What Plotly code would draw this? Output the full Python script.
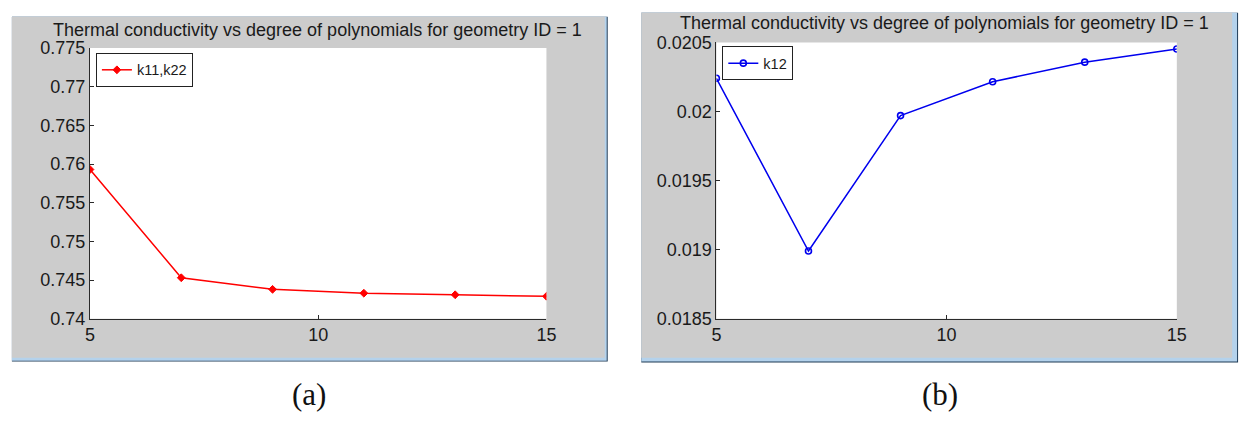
import plotly.graph_objects as go

# ---------------- data ----------------
degree = [5, 7, 9, 11, 13, 15]
k11_k22 = [0.7593, 0.7453, 0.7438, 0.7433, 0.7431, 0.7429]
k12 = [0.02024, 0.01899, 0.01997, 0.020215, 0.020357, 0.020452]

x_tickvals = [5, 10, 15]
x_ticktext = ["5", "10", "15"]
yA_tickvals = [0.74, 0.745, 0.75, 0.755, 0.76, 0.765, 0.77, 0.775]
yA_ticktext = ["0.74", "0.745", "0.75", "0.755", "0.76", "0.765", "0.77", "0.775"]
yB_tickvals = [0.0185, 0.019, 0.0195, 0.02, 0.0205]
yB_ticktext = ["0.0185", "0.019", "0.0195", "0.02", "0.0205"]

title_text = "Thermal conductivity vs degree of polynomials for geometry ID = 1"
captions = ["(a)", "(b)"]
series_names = ["k11,k22", "k12"]

# ---------------- layout helpers ----------------
W, H = 1254, 424


def px(x):
    return x / W


def py(y):
    return 1 - y / H


FONT = "Liberation Sans, Arial, sans-serif"
AX = "#2a2a2a"

fig = go.Figure()

fig.add_trace(go.Scatter(
    x=degree, y=k11_k22, mode="lines+markers", name=series_names[0],
    line=dict(color="#ff0000", width=1.5),
    marker=dict(symbol="diamond", size=6, color="#ff0000",
                line=dict(color="#ff0000", width=1)),
    xaxis="x", yaxis="y", legend="legend"))

fig.add_trace(go.Scatter(
    x=degree, y=k12, mode="lines+markers", name=series_names[1],
    line=dict(color="#0000ee", width=1.5),
    marker=dict(symbol="circle-open", size=6, color="#0000ee",
                line=dict(color="#0000ee", width=1.6)),
    xaxis="x2", yaxis="y2", legend="legend2"))

axis_common = dict(showgrid=False, zeroline=False, showline=True,
                   linecolor=AX, linewidth=1, ticks="inside", ticklen=4,
                   tickcolor=AX, tickfont=dict(family=FONT, size=18, color="#1a1a1a"),
                   mirror=False)

# panel a plot area
ax_l, ax_r, ay_t, ay_b = 86, 548, 40, 324
# panel b plot area
bx_l, bx_r, by_t, by_b = 720, 1186, 34, 324

fig.update_layout(
    width=W, height=H, margin=dict(l=0, r=0, t=0, b=0),
    paper_bgcolor="white", plot_bgcolor="white",
    xaxis=dict(domain=[px(ax_l), px(ax_r)], range=[5, 15], anchor="y",
               tickvals=x_tickvals, ticktext=x_ticktext, **axis_common),
    yaxis=dict(domain=[py(ay_b), py(ay_t)], range=[0.74, 0.775], anchor="x",
               tickvals=yA_tickvals, ticktext=yA_ticktext, **axis_common),
    xaxis2=dict(domain=[px(bx_l), px(bx_r)], range=[5, 15], anchor="y2",
                tickvals=x_tickvals, ticktext=x_ticktext, **axis_common),
    yaxis2=dict(domain=[py(by_b), py(by_t)], range=[0.0185, 0.0205], anchor="x2",
                tickvals=yB_tickvals, ticktext=yB_ticktext, **axis_common),
    legend=dict(x=px(92), y=py(45), xanchor="left", yanchor="top",
                bgcolor="white", bordercolor="#222", borderwidth=1,
                font=dict(family=FONT, size=14.5, color="#1a1a1a"),
                itemwidth=30, tracegroupgap=0),
    legend2=dict(x=px(726), y=py(38), xanchor="left", yanchor="top",
                 bgcolor="white", bordercolor="#222", borderwidth=1,
                 font=dict(family=FONT, size=14.5, color="#1a1a1a"),
                 itemwidth=30, tracegroupgap=0),
    showlegend=True,
)

shapes = []


def rect(x0, y0, x1, y1, color):
    shapes.append(dict(type="rect", xref="paper", yref="paper",
                       x0=px(x0), x1=px(x1), y0=py(y1), y1=py(y0),
                       fillcolor=color, line=dict(width=0), layer="below"))


LB = "#b4d2ec"
DK = "#1e3a55"
# panel a window
rect(7, 7, 610, 369, DK)
rect(7, 7, 609, 368, LB)
rect(7, 7, 607, 365, "#cccccc")
rect(ax_l, ay_t, ax_r, ay_b, "white")
# panel b window
rect(644, 3, 1248, 370, DK)
rect(644, 3, 1247, 369, LB)
rect(644, 3, 1242, 365, "#cccccc")
rect(bx_l, by_t, bx_r, by_b, "white")
fig.update_layout(shapes=shapes)

annotations = [
    dict(text=title_text, x=px(316), y=py(21), xref="paper", yref="paper",
         xanchor="center", yanchor="middle", showarrow=False,
         font=dict(family=FONT, size=18, color="#1a1a1a")),
    dict(text=title_text, x=px(951), y=py(14), xref="paper", yref="paper",
         xanchor="center", yanchor="middle", showarrow=False,
         font=dict(family=FONT, size=18, color="#1a1a1a")),
    dict(text=captions[0], x=px(308), y=py(404), xref="paper", yref="paper",
         xanchor="center", yanchor="middle", showarrow=False,
         font=dict(family="Liberation Serif, DejaVu Serif, serif", size=31, color="#111")),
    dict(text=captions[1], x=px(946), y=py(404), xref="paper", yref="paper",
         xanchor="center", yanchor="middle", showarrow=False,
         font=dict(family="Liberation Serif, DejaVu Serif, serif", size=31, color="#111")),
]
fig.update_layout(annotations=annotations)

fig.write_html("out.html")
